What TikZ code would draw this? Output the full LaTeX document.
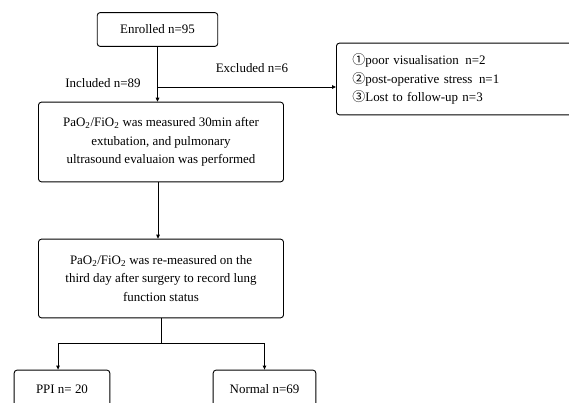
\documentclass[tikz,border=0pt]{standalone}
\usepackage{fontspec}
\setmainfont{Liberation Serif}
\newfontfamily\circfont{Noto Sans CJK SC}
\usetikzlibrary{positioning,arrows.meta}
\newcommand{\circnum}[1]{{\circfont\fontsize{13}{13}\selectfont\char\numexpr"245F+#1\relax}}
\begin{document}
\begin{tikzpicture}[x=1bp,y=1bp,
    box/.style={draw, line width=0.9pt, rounded corners=3pt, align=center,
      font=\fontsize{13}{18.5}\selectfont, inner sep=0pt},
    flow/.style={line width=0.9pt, -{Triangle[length=4pt,width=3.5pt]}},
    lbl/.style={font=\fontsize{13}{15}\selectfont}]
  \clip (0,0) rectangle (569,402);
  % boxes
  \node[box, minimum width=121, minimum height=34] (enrol) at (157.5,372.5) {Enrolled n=95};
  \node[box, anchor=west, align=left, text width=208, inner xsep=16, minimum height=72] (excl) at (336,323)
    {\circnum{1}poor visualisation\enspace n=2\\
     \circnum{2}post-operative stress\enspace n=1\\
     \circnum{3}Lost to follow-up n=3};
  \node[box, minimum width=246, minimum height=80] (meas1) at (161,260)
    {PaO\textsubscript{2}/FiO\textsubscript{2} was measured 30min after\\
     extubation, and pulmonary\\
     ultrasound evaluaion was performed};
  \node[box, minimum width=246, minimum height=79] (meas2) at (161,123.5)
    {PaO\textsubscript{2}/FiO\textsubscript{2} was re-measured on the\\
     third day after surgery to record lung\\
     function status};
  \node[box, minimum width=96, minimum height=38] (ppi) at (62,13) {PPI n= 20};
  \node[box, minimum width=103, minimum height=38] (normal) at (264.5,13) {Normal n=69};
  % connectors
  \coordinate (fork) at (157.5,315);
  \coordinate (split) at (161,59);
  \draw[flow] (enrol.south) -- (enrol.south |- meas1.north);
  \draw[flow] (fork) -- (fork -| excl.west);
  \draw[flow] ([xshift=-3]meas1.south) -- ([xshift=-3]meas2.north);
  \draw[line width=0.9pt] (meas2.south) -- (split);
  \draw[flow] (split) -| ([xshift=-4]ppi.north);
  \draw[flow] (split) -| (normal.north);
  % labels
  \node[lbl] (incl) at (103,319) {Included n=89};
  \node[lbl] (exclabel) at (252,334) {Excluded n=6};
\end{tikzpicture}
\end{document}
